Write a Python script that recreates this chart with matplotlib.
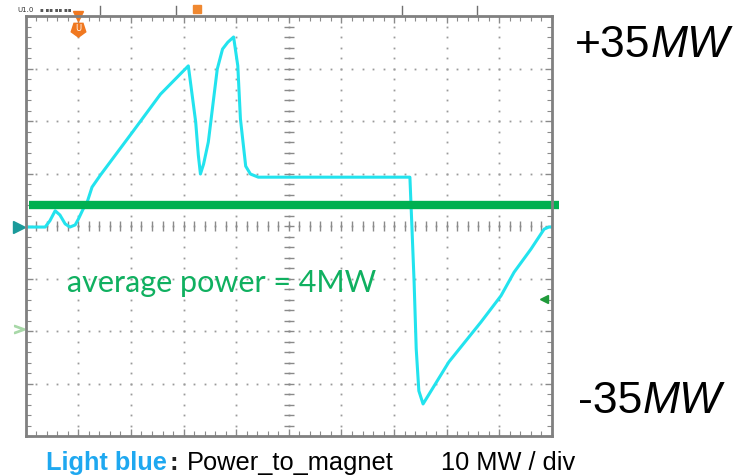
import matplotlib.pyplot as plt
import numpy as np

# trace: time in divisions, power in MW (10 MW / div)
time_div = [0.0, 0.37, 0.46, 0.56, 0.65, 0.75, 0.84, 0.94, 1.0, 1.09, 1.17, 1.26,
            1.42, 2.03, 2.56, 3.09, 3.23, 3.28, 3.32, 3.38, 3.47, 3.57, 3.64, 3.74,
            3.84, 3.95, 4.03, 4.08, 4.18, 4.27, 4.42, 7.30, 7.34, 7.38, 7.42, 7.47,
            7.55, 8.04, 8.65, 9.03, 9.28, 9.60, 9.85, 9.94, 10.0]
power_mw = [-0.2, -0.2, 1.0, 2.9, 2.1, 0.4, -0.2, 0.2, 1.3, 3.2, 4.6, 7.4,
            9.7, 17.9, 25.1, 30.5, 19.8, 13.5, 9.9, 11.8, 16.0, 24.2, 29.9, 33.7,
            35.0, 36.0, 30.5, 20.4, 11.4, 9.9, 9.3, 9.3, -0.6, -10.7, -23.4, -31.4,
            -33.9, -25.9, -18.3, -13.3, -8.8, -4.4, -0.6, -0.2, -0.2]
average_mw = 4.0

W, H = 740, 477
fig = plt.figure(figsize=(W / 100, H / 100), dpi=100)
ax = fig.add_axes([25.7 / W, 1 - 437 / H, 526.3 / W, 420 / H])
ax.set_xlim(0, 10)
ax.set_ylim(-40, 40)

# scope graticule: dotted lines, dots every 1/5 division
minor_x = np.arange(0, 10.01, 0.2)
minor_y = np.arange(-40, 40.01, 2)
for gx in range(1, 10):
    ax.plot(np.full_like(minor_y, gx), minor_y, ls='none', marker='s', ms=1.3,
            color='#9a9a9a', mew=0)
for gy in range(-30, 40, 10):
    ax.plot(minor_x, np.full_like(minor_x, gy), ls='none', marker='s', ms=1.3,
            color='#9a9a9a', mew=0)
# centre axes with cross ticks
ax.plot(minor_x, np.zeros_like(minor_x), ls='none', marker='|', ms=7,
        color='#8a8a8a', mew=1)
ax.plot(np.full_like(minor_y, 5), minor_y, ls='none', marker='_', ms=7,
        color='#8a8a8a', mew=1)

ax.set_xticks(range(0, 11))
ax.set_yticks(range(-40, 41, 10))
ax.set_xticks(minor_x, minor=True)
ax.set_yticks(minor_y, minor=True)
ax.tick_params(which='both', direction='in', top=True, right=True,
               labelbottom=False, labelleft=False, color='#8a8a8a')
ax.tick_params(which='major', length=5, width=1)
ax.tick_params(which='minor', length=3.5, width=0.8)
for s in ax.spines.values():
    s.set_color('#808080')
    s.set_linewidth(2)

# power trace
ax.plot(time_div, power_mw, color='#22e3ee', lw=2.2, solid_joinstyle='round')

# average power line
ax.plot([0.06, 10.14], [average_mw, average_mw], color='#00b050', lw=6,
        solid_capstyle='butt', clip_on=False)

# scope markers (axes fraction)
ax.plot(-0.012, 0.497, marker='>', ms=8, color='#1a9a9a', transform=ax.transAxes, clip_on=False)
ax.plot(-0.012, 0.255, marker='$>$', ms=7, color='#a8d8a8', transform=ax.transAxes, clip_on=False)
ax.plot(0.985, 0.326, marker='<', ms=6, color='#1f9a3a', transform=ax.transAxes, clip_on=False)
ax.plot(0.0994, 0.999, marker='v', ms=7, color='#f07820', transform=ax.transAxes, clip_on=False)
ax.plot(0.0994, 0.97, marker=(5, 0, 180), ms=11, color='#f07820', transform=ax.transAxes, clip_on=False)
ax.text(0.0994, 0.972, 'U', color='white', fontsize=6, ha='center', va='center',
        transform=ax.transAxes)
ax.plot(0.326, 1.017, marker='s', ms=6, color='#f08830', transform=ax.transAxes, clip_on=False)
for fx in [0.141, 0.286, 0.715, 0.858]:
    ax.plot([fx, fx], [1.005, 1.025], color='#707070', lw=1, transform=ax.transAxes, clip_on=False)
fig.text(17 / W, 1 - 12 / H, 'U1.0', fontsize=5, color='#333333', va='baseline')
fig.text(40 / W, 1 - 12 / H, '▪ ▪▪ ▪▪ ▪▪', fontsize=4, color='#555555', va='baseline')

fig.text(67 / W, 1 - 292 / H, 'average power = 4MW', fontsize=22, color='#10b060',
         family='Lato', va='baseline')

# range labels, "MW" set in italic right after the number
t1 = fig.text(575 / W, 1 - 57 / H, '+35', fontsize=32, family='Liberation Sans',
              va='baseline')
t2 = fig.text(578 / W, 1 - 413 / H, '-35', fontsize=32, family='Liberation Sans',
              va='baseline')
fig.canvas.draw()
r = fig.canvas.get_renderer()
for t in (t1, t2):
    bb = t.get_window_extent(r)
    fig.text(bb.x1 / W, t.get_position()[1], 'MW', fontsize=32,
             family='Liberation Sans', style='italic', va='baseline')

# caption
cy = 1 - 470 / H
fig.text(46 / W, cy, 'Light blue', fontsize=18.3, family='Liberation Sans',
         weight='bold', color='#1ea8f0', va='baseline')
fig.text(170 / W, cy, ':', fontsize=18.3, family='Liberation Sans', weight='bold',
         color='#222222', va='baseline')
fig.text(187 / W, cy, 'Power_to_magnet', fontsize=18.3, family='Liberation Sans',
         color='black', va='baseline')
fig.text(441 / W, cy, '10 MW / div', fontsize=18.3, family='Liberation Sans',
         color='black', va='baseline')

fig.savefig('out.png', dpi=100)
